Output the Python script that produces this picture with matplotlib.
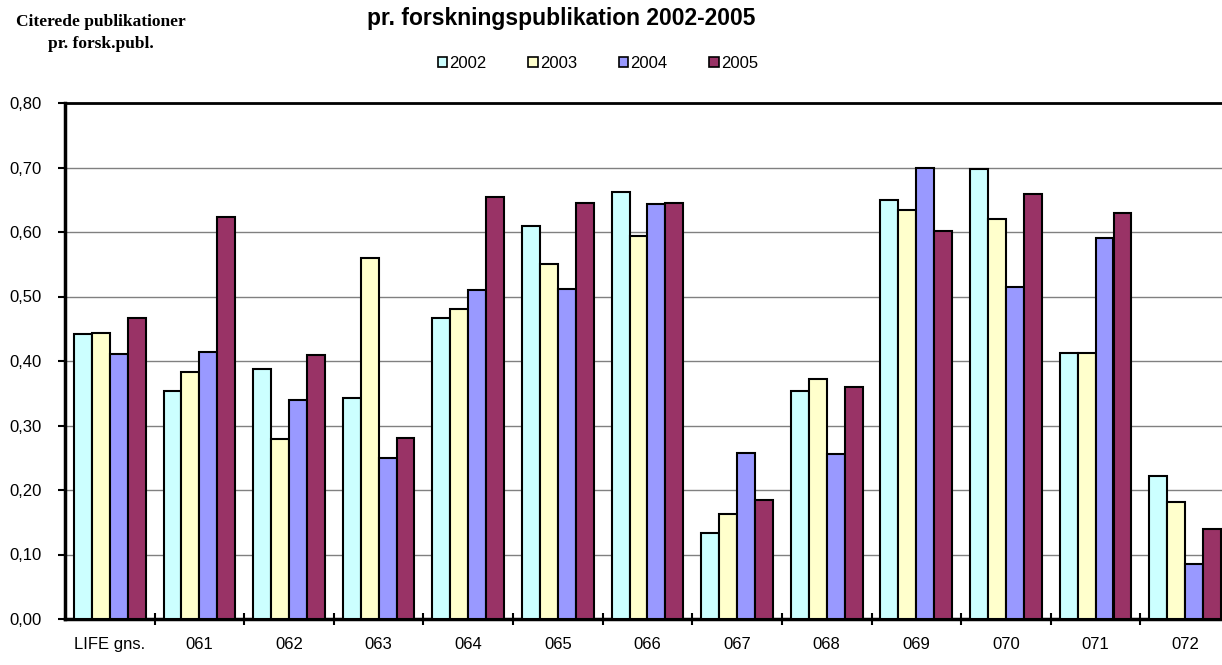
import matplotlib
matplotlib.use("Agg")
import matplotlib.pyplot as plt
from matplotlib.patches import Patch
import numpy as np

categories = ["LIFE gns.", "061", "062", "063", "064", "065", "066", "067", "068", "069", "070", "071", "072"]
years = ["2002", "2003", "2004", "2005"]
v2002 = [0.442, 0.354, 0.388, 0.343, 0.467, 0.609, 0.662, 0.134, 0.354, 0.649, 0.698, 0.412, 0.221]
v2003 = [0.444, 0.383, 0.279, 0.559, 0.480, 0.551, 0.594, 0.163, 0.372, 0.634, 0.620, 0.412, 0.181]
v2004 = [0.411, 0.414, 0.339, 0.249, 0.510, 0.512, 0.643, 0.258, 0.256, 0.700, 0.514, 0.591, 0.085]
v2005 = [0.467, 0.623, 0.410, 0.280, 0.655, 0.645, 0.645, 0.185, 0.360, 0.602, 0.659, 0.629, 0.139]
series = [v2002, v2003, v2004, v2005]
colors = ["#CCFFFF", "#FFFFCC", "#9999FF", "#993366"]
yticks = [0.0, 0.1, 0.2, 0.3, 0.4, 0.5, 0.6, 0.7, 0.8]

W, H = 1222, 665
fig = plt.figure(figsize=(W / 100, H / 100), dpi=100)
ax = fig.add_axes([65 / W, (H - 619) / H, 1165 / W, (619 - 103) / H])

x = np.arange(len(categories))
bw = 0.2
for i, (vals, c, yr) in enumerate(zip(series, colors, years)):
    ax.bar(x + (i - 1.5) * bw, vals, width=bw, color=c, edgecolor="black",
           linewidth=1.5, label=yr, zorder=3)

ax.set_xlim(-0.5, len(categories) - 0.5)
ax.set_ylim(0, 0.8)
ax.set_yticks(yticks)
ax.set_yticklabels([f"{v:.2f}".replace(".", ",") for v in yticks],
                   fontsize=12, family="Liberation Sans")
ax.yaxis.grid(True, color="#808080", linewidth=1, zorder=0)
ax.set_axisbelow(True)

ax.set_xticks(np.arange(0.5, len(categories) - 0.5, 1.0))
ax.set_xticklabels([])
ax.set_xticks(x, minor=True)
ax.set_xticklabels(categories, minor=True, fontsize=12, family="Liberation Sans")
ax.tick_params(axis="x", which="major", direction="inout", length=9, width=1.5)
ax.tick_params(axis="x", which="minor", length=0, pad=13)
ax.tick_params(axis="y", direction="out", length=5, width=1.5, pad=12)

for s in ["left", "bottom"]:
    ax.spines[s].set_linewidth(2.5)
ax.spines["top"].set_linewidth(2)
ax.spines["right"].set_visible(False)

fig.text(561 / W, 1 - 19 / H, "pr. forskningspublikation 2002-2005", ha="center", va="center",
         fontsize=16.5, fontweight="bold", family="Liberation Sans")
fig.text(101 / W, 1 - 33 / H, "Citerede publikationer\npr. forsk.publ.", ha="center", va="center",
         fontsize=12.5, fontweight="bold", family="Liberation Serif", linespacing=1.45)

handles = [Patch(facecolor=c, edgecolor="black", linewidth=1.2) for c in colors]
fig.legend(handles, years, loc="center", bbox_to_anchor=(598 / W, 1 - 63 / H), ncol=4,
           frameon=False, handlelength=0.55, handleheight=0.55, handletextpad=0.15,
           columnspacing=2.5, prop={"family": "Liberation Sans", "size": 12})

fig.savefig("out.png", dpi=100)
